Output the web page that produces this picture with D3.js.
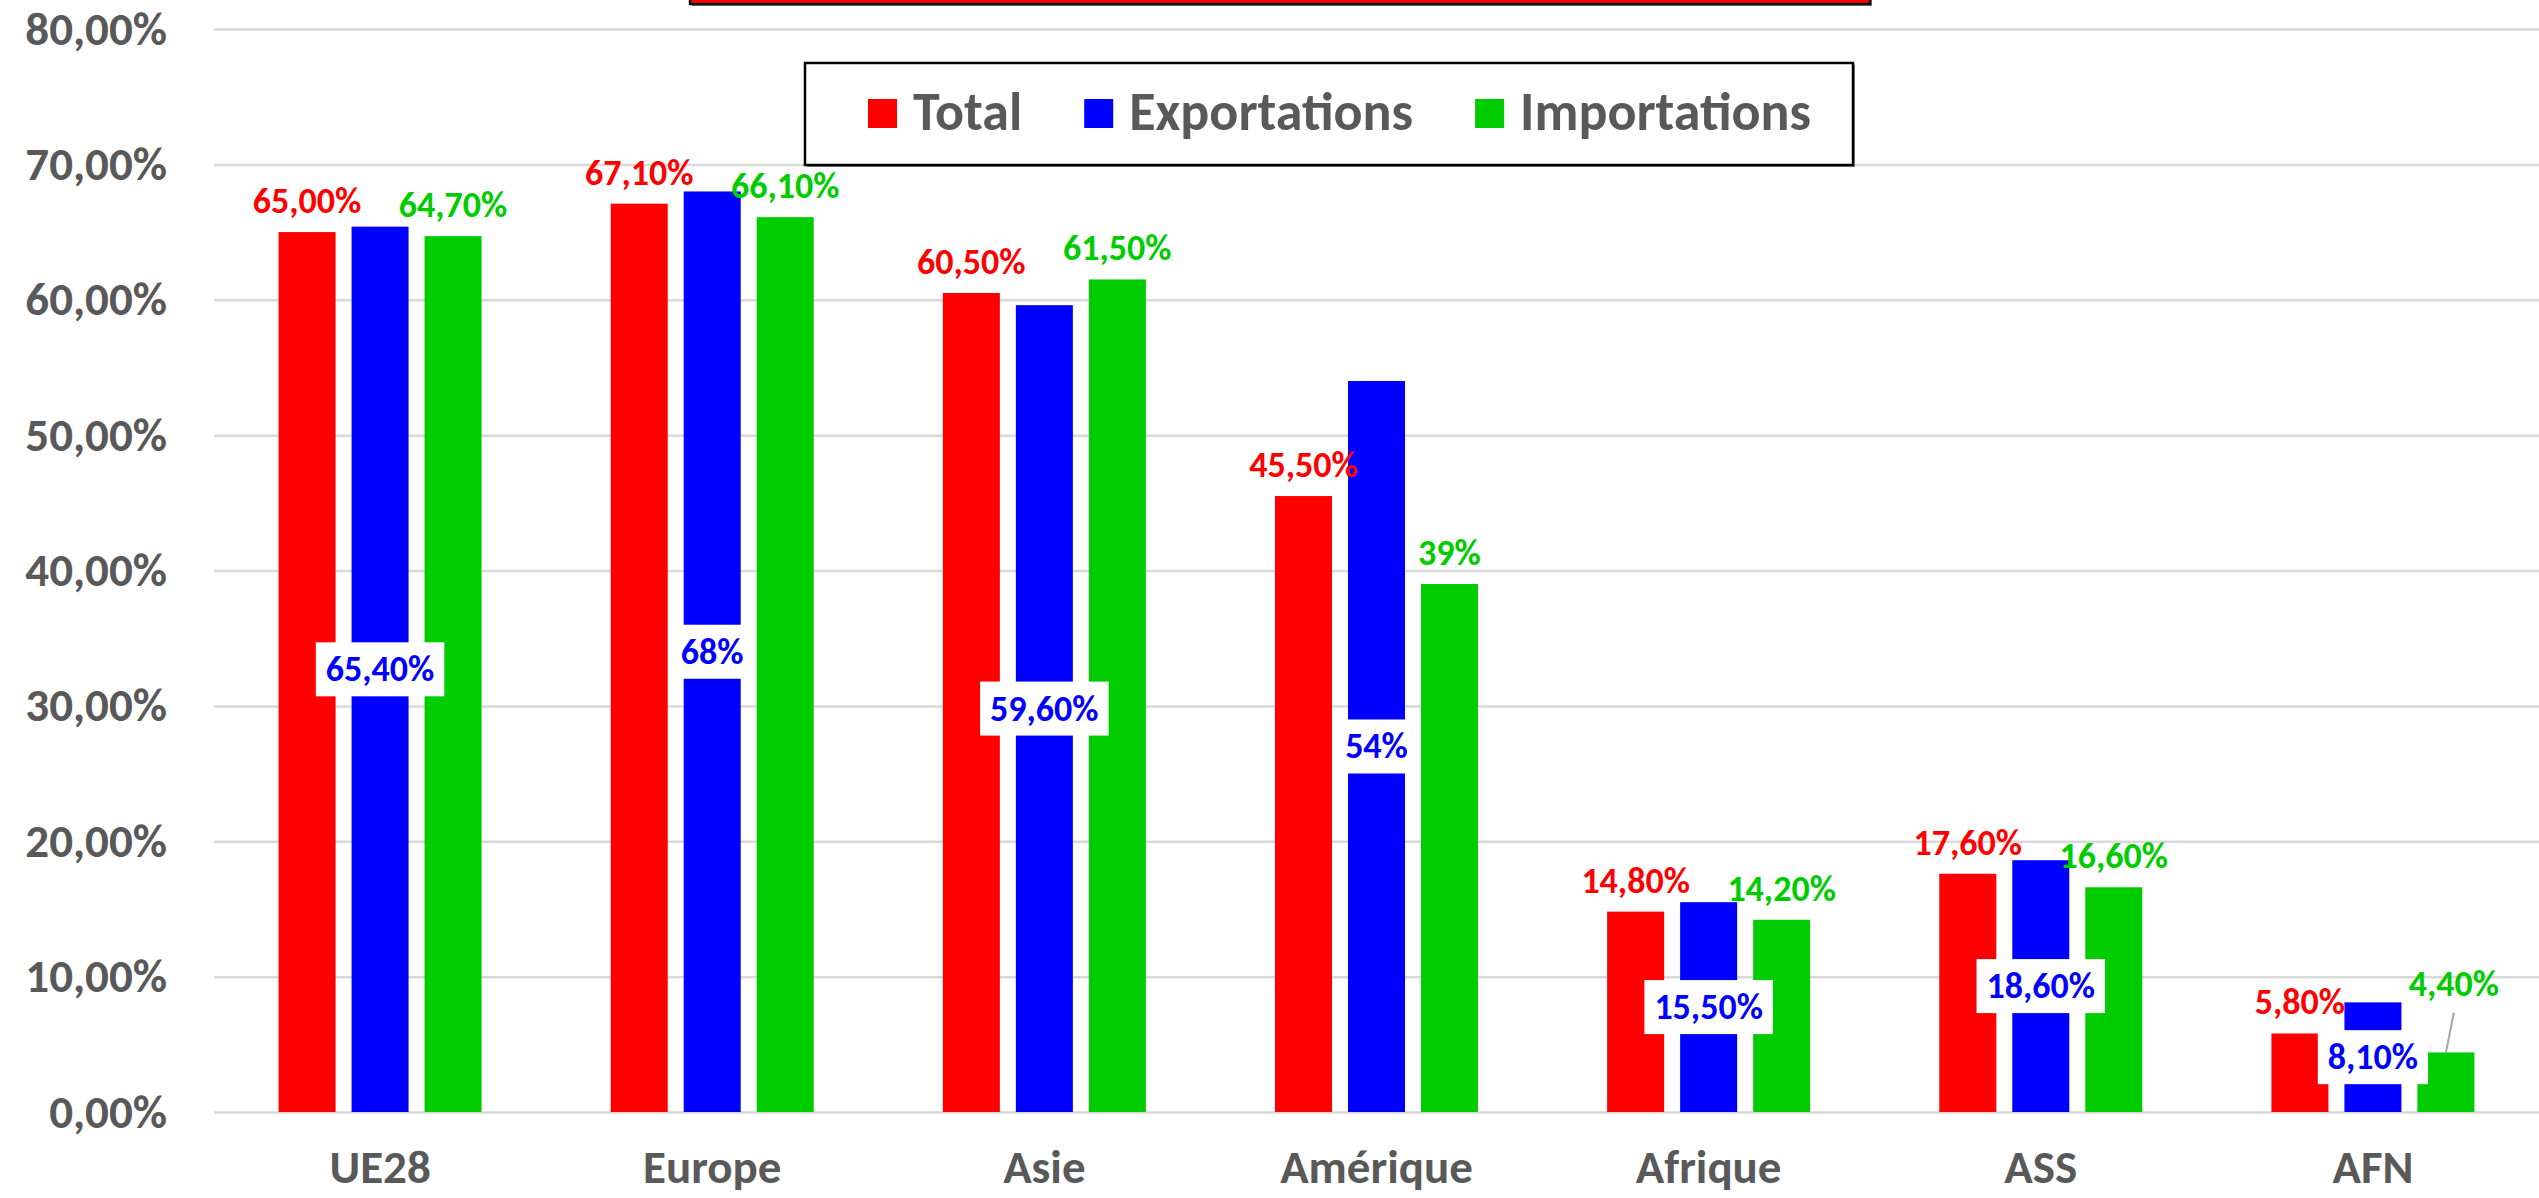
<!DOCTYPE html>
<html>
<head>
  <meta charset="utf-8">
  <script src="https://d3js.org/d3.v7.min.js"></script>
</head>
<style>
  body { margin: 0; background: #fff; }
  svg text { font-family: Carlito, Calibri, Lato, sans-serif; font-weight: bold; }
</style>
<body>
  <svg width="2539" height="1198"></svg>

  <script>
    // Data
    const categories = ['UE28', 'Europe', 'Asie', 'Amérique', 'Afrique', 'ASS', 'AFN'];
    const seriesNames = ['Total', 'Exportations', 'Importations'];
    const total = [65.0, 67.1, 60.5, 45.5, 14.8, 17.6, 5.8];
    const exportations = [65.4, 68, 59.6, 54, 15.5, 18.6, 8.1];
    const importations = [64.7, 66.1, 61.5, 39, 14.2, 16.6, 4.4];
    const totalLabels = ['65,00%', '67,10%', '60,50%', '45,50%', '14,80%', '17,60%', '5,80%'];
    const exportLabels = ['65,40%', '68%', '59,60%', '54%', '15,50%', '18,60%', '8,10%'];
    const importLabels = ['64,70%', '66,10%', '61,50%', '39%', '14,20%', '16,60%', '4,40%'];
    const yTicks = [0, 10, 20, 30, 40, 50, 60, 70, 80];

    const colors = {Total: '#ff0000', Exportations: '#0000ff', Importations: '#00cc00'};
    const seriesValues = {Total: total, Exportations: exportations, Importations: importations};
    const seriesLabels = {Total: totalLabels, Exportations: exportLabels, Importations: importLabels};

    const plotLeft = 214, plotRight = 2539, plotTop = 29, plotBottom = 1112;
    const axisColor = '#595959';

    const svg = d3.select('svg');

    const fr = d3.formatLocale({decimal: ',', thousands: ' ', grouping: [3], currency: ['', '€']});
    const pct = fr.format('.2%');

    const x = d3.scaleBand().domain(categories).range([plotLeft, plotRight]);
    const groupW = 203;
    const sub = d3.scaleBand().domain(seriesNames).range([0, groupW]).paddingInner(0.219);
    const y = d3.scaleLinear().domain([0, 80]).range([plotBottom, plotTop]);

    // title box cut off at the top
    svg.append('rect').attr('x', 692).attr('y', -10).attr('width', 1180).attr('height', 16).attr('fill', '#777');
    svg.append('rect').attr('x', 690).attr('y', -10).attr('width', 1180).attr('height', 14)
      .attr('fill', '#ff0000').attr('stroke', '#111').attr('stroke-width', 2.5);

    // y axis + gridlines
    const yAxis = svg.append('g')
      .attr('transform', `translate(${plotLeft},0)`)
      .call(d3.axisLeft(y).tickValues(yTicks).tickFormat(d => pct(d / 100))
        .tickSizeInner(-(plotRight - plotLeft)).tickSizeOuter(0).tickPadding(47));
    yAxis.select('.domain').remove();
    yAxis.selectAll('line').attr('stroke', '#d9d9d9').attr('stroke-width', 2.5);
    yAxis.selectAll('text').attr('fill', axisColor).style('font-size', '47px');

    // x axis
    const xAxis = svg.append('g')
      .attr('transform', `translate(0,${plotBottom})`)
      .call(d3.axisBottom(x).tickSize(0).tickPadding(38));
    xAxis.select('.domain').remove();
    xAxis.selectAll('text').attr('fill', axisColor).style('font-size', '47px');

    // bars
    const rows = [];
    categories.forEach((c, i) => {
      seriesNames.forEach(s => {
        rows.push({cat: c, i: i, s: s, v: seriesValues[s][i], label: seriesLabels[s][i]});
      });
    });
    const bx = d => x(d.cat) + x.bandwidth() / 2 - groupW / 2 + sub(d.s);

    svg.selectAll('.bar')
      .data(rows)
      .enter()
      .append('rect')
      .attr('class', 'bar')
      .attr('x', bx)
      .attr('y', d => y(d.v))
      .attr('width', sub.bandwidth())
      .attr('height', d => plotBottom - y(d.v))
      .attr('fill', d => colors[d.s]);

    // labels above bars (Total, Importations)
    const outside = rows.filter(d => d.s !== 'Exportations');
    outside.forEach(d => {
      let cx = bx(d) + sub.bandwidth() / 2;
      let ty = y(d.v) - 19;
      if (d.cat === 'AFN' && d.s === 'Importations') {
        // label moved up with a leader line
        const lx = cx + 8, ly = ty - 37;
        svg.append('line')
          .attr('x1', lx).attr('y1', ly + 16)
          .attr('x2', cx).attr('y2', y(d.v))
          .attr('stroke', '#a6a6a6').attr('stroke-width', 2);
        cx = lx; ty = ly;
      }
      svg.append('text')
        .attr('x', cx).attr('y', ty)
        .attr('text-anchor', 'middle')
        .attr('fill', colors[d.s])
        .style('font-size', '36px')
        .text(d.label);
    });

    // labels centred in the Exportations bars, on white boxes
    rows.filter(d => d.s === 'Exportations').forEach(d => {
      const cx = bx(d) + sub.bandwidth() / 2;
      const cy = y(d.v / 2);
      const g = svg.append('g');
      const r = g.append('rect').attr('fill', '#fff');
      const t = g.append('text')
        .attr('x', cx).attr('y', cy + 12)
        .attr('text-anchor', 'middle')
        .attr('fill', colors[d.s])
        .style('font-size', '36px')
        .text(d.label);
      const tw = t.node().getComputedTextLength();
      r.attr('x', cx - tw / 2 - 10).attr('y', cy - 27)
        .attr('width', tw + 20).attr('height', 54);
    });

    // legend
    svg.append('rect').attr('x', 807).attr('y', 65).attr('width', 1048).attr('height', 102).attr('fill', '#888');
    svg.append('rect').attr('x', 805).attr('y', 63).attr('width', 1048).attr('height', 102)
      .attr('fill', '#fff').attr('stroke', '#000').attr('stroke-width', 2.5);
    let lx = 868;
    seriesNames.forEach(s => {
      svg.append('rect').attr('x', lx).attr('y', 99).attr('width', 29).attr('height', 29).attr('fill', colors[s]);
      const t = svg.append('text')
        .attr('x', lx + 45).attr('y', 130)
        .attr('fill', axisColor)
        .style('font-size', '54px')
        .text(s);
      lx += 45 + t.node().getComputedTextLength() + 62;
    });
  </script>
</body>
</html>
